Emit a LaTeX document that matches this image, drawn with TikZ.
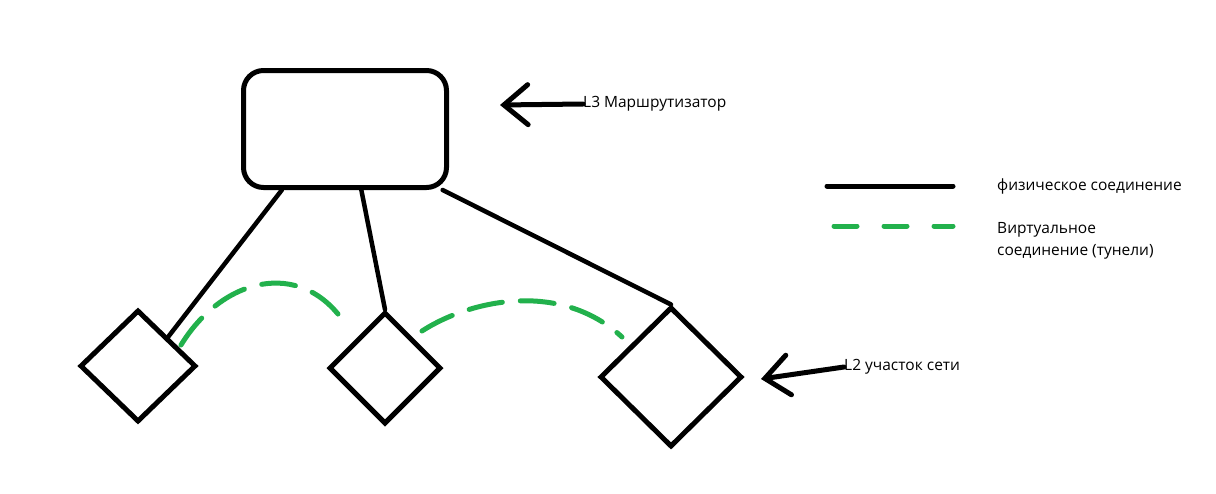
\documentclass[tikz,border=0pt]{standalone}
\usepackage{fontspec}
\setmainfont{Open Sans}
\usetikzlibrary{shapes.geometric,arrows.meta}
\definecolor{tunnelgreen}{RGB}{34,177,76}
\begin{document}
\begin{tikzpicture}[x=1pt,y=-1pt,
  phys/.style={line width=4.5pt,black,line cap=round},
  tunnel/.style={line width=5pt,tunnelgreen,line cap=round,dash pattern=on 34pt off 18pt},
  segment/.style={diamond,draw,line width=5pt,inner sep=0pt},
  pointer/.style={line width=5pt,line cap=round,-{Straight Barb[length=24pt,width=40pt,line cap=round]}},
  lbl/.style={font=\fontsize{15.5}{22}\selectfont,anchor=west,inner sep=0pt}]
  \useasboundingbox (0,0) rectangle (1216,493);
  %Router
  \node[draw,line width=5pt,rounded corners=20pt,minimum width=203pt,minimum height=117pt] (rtr) at (345,129) {};
  %L2 segments
  \node[segment,minimum width=116pt,minimum height=112pt] (seg1) at (138,366) {};
  \node[segment,minimum width=112pt,minimum height=112pt] (seg2) at (385,368) {};
  \node[segment,minimum width=142pt,minimum height=140pt] (seg3) at (671,377) {};
  %Physical links
  \draw[phys] (rtr.224) -- (seg1.north east);
  \draw[phys] (rtr.285) -- (seg2.north);
  \draw[phys] (rtr.328) -- (seg3.north);
  %Tunnels
  \coordinate (tun1a) at (181,345);
  \coordinate (tun1b) at (344,322);
  \coordinate (tun2a) at (422,331);
  \coordinate (tun2b) at (622,337);
  \draw[tunnel] (tun1a) .. controls (222,278) and (300,258) .. (tun1b);
  \draw[tunnel] (tun2a) .. controls (470,300) and (560,280) .. (tun2b);
  %Labels with arrows
  \node[lbl] (lblrtr) at (583,104) {L3 Маршрутизатор};
  \coordinate (tiprtr) at (500,105);
  \draw[pointer] (lblrtr.west) -- (tiprtr);
  \node[lbl] (lblseg) at (844,367) {L2 участок сети};
  \coordinate (tipseg) at (761,379);
  \draw[pointer] (lblseg.west) -- (tipseg);
  %Legend
  \coordinate (physa) at (827,186);
  \coordinate (physb) at (953,186);
  \draw[phys,line width=5pt] (physa) -- (physb);
  \node[lbl] (lblphys) at (997,186) {физическое соединение};
  \coordinate (tuna) at (834,226);
  \coordinate (tunb) at (953,226);
  \draw[tunnel,dash pattern=on 23pt off 27pt] (tuna) -- (tunb);
  \node[lbl,align=left] (lbltun) at (997,241) {Виртуальное\\соединение (тунели)};
\end{tikzpicture}
\end{document}
